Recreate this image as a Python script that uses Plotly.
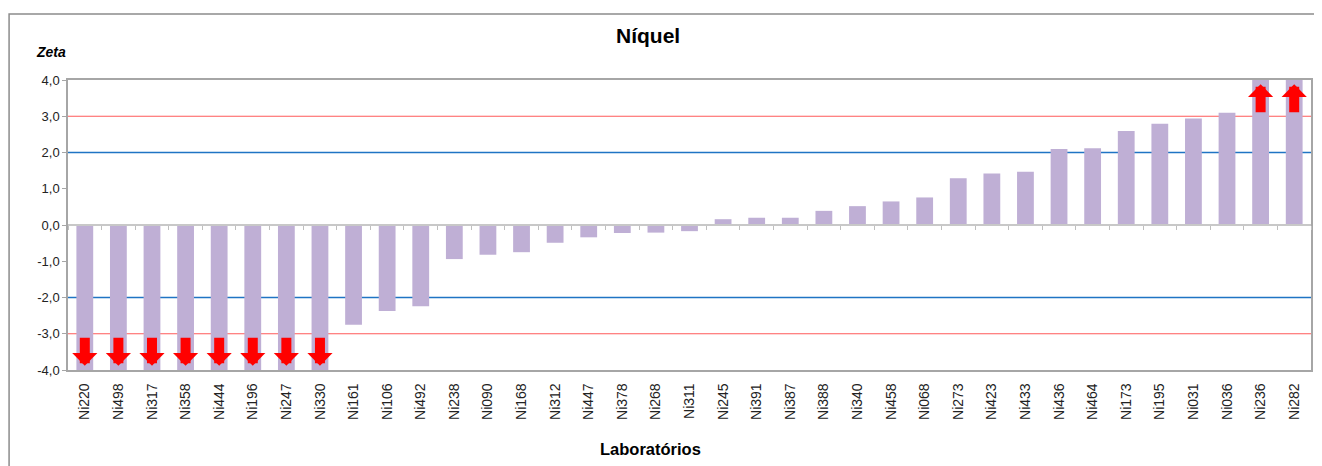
import plotly.graph_objects as go

LABS = ["Ni220", "Ni498", "Ni317", "Ni358", "Ni444", "Ni196", "Ni247", "Ni330",
        "Ni161", "Ni106", "Ni492", "Ni238", "Ni090", "Ni168", "Ni312", "Ni447",
        "Ni378", "Ni268", "Ni311", "Ni245", "Ni391", "Ni387", "Ni388", "Ni340",
        "Ni458", "Ni068", "Ni273", "Ni423", "Ni433", "Ni436", "Ni464", "Ni173",
        "Ni195", "Ni031", "Ni036", "Ni236", "Ni282"]
ZETA = [-4.0, -4.0, -4.0, -4.0, -4.0, -4.0, -4.0, -4.0,
        -2.75, -2.37, -2.24, -0.94, -0.82, -0.75, -0.49, -0.34,
        -0.22, -0.21, -0.17, 0.16, 0.20, 0.20, 0.39, 0.52,
        0.65, 0.76, 1.29, 1.42, 1.47, 2.10, 2.12, 2.59,
        2.79, 2.94, 3.10, 4.0, 4.0]
Y_TICKS = [-4, -3, -2, -1, 0, 1, 2, 3, 4]
Y_TICK_LABELS = ["-4,0", "-3,0", "-2,0", "-1,0", "0,0", "1,0", "2,0", "3,0", "4,0"]
WARN_LIMIT = 2.0
ACTION_LIMIT = 3.0
Y_MAX = 4.0
TITLE = "Níquel"
Y_TITLE = "Zeta"
X_TITLE = "Laboratórios"

FONT = "Liberation Sans, Arial, sans-serif"
BAR_COLOR = "#bfafd5"
GRAY = "#a6a6a6"

fig = go.Figure()
fig.add_trace(go.Bar(x=LABS, y=ZETA, marker=dict(color=BAR_COLOR, line=dict(width=0)),
                     showlegend=False, hoverinfo="x+y"))
# helper trace for the axis drawn through zero
fig.add_trace(go.Scatter(x=list(range(len(LABS))), y=[None] * len(LABS), xaxis="x2",
                         mode="markers", showlegend=False, hoverinfo="skip"))

# limit lines
for lim, col, w in [(ACTION_LIMIT, "#ff5a5a", 1.2), (WARN_LIMIT, "#1f74c4", 1.6)]:
    for s in (1, -1):
        fig.add_shape(type="line", xref="paper", x0=0, x1=1, yref="y", y0=s * lim, y1=s * lim,
                      line=dict(color=col, width=w), layer="below")

# out-of-range arrows
annotations = []
for lab, v in zip(LABS, ZETA):
    if abs(v) >= Y_MAX:
        s = 1 if v > 0 else -1
        annotations.append(dict(x=lab, y=s * 3.88, ax=lab, ay=s * 3.07, xref="x", yref="y",
                                axref="x", ayref="y", showarrow=True, arrowhead=1,
                                arrowwidth=10, arrowsize=0.42, arrowcolor="#ff0000", text=""))

annotations += [
    dict(text=f"<b>{TITLE}</b>", x=0.4665, y=1.155, xref="paper", yref="paper",
         showarrow=False, font=dict(family=FONT, size=21, color="#000"), xanchor="center", yanchor="middle"),
    dict(text=f"<b><i>{Y_TITLE}</i></b>", x=-0.0137, y=1.097, xref="paper", yref="paper",
         showarrow=False, font=dict(family=FONT, size=14, color="#000"), xanchor="center", yanchor="middle"),
    dict(text=f"<b>{X_TITLE}</b>", x=0.469, y=-0.272, xref="paper", yref="paper",
         showarrow=False, font=dict(family=FONT, size=16.5, color="#000"), xanchor="center", yanchor="middle"),
]

# outer frame
fig.add_shape(type="rect", xref="paper", yref="paper", x0=-0.0474, x1=1.1, y0=-0.45, y1=1.2276,
              line=dict(color="#8c8c8c", width=1.5), layer="below")

# page body has an 8px margin: the figure is sized and shifted to compensate
fig.update_layout(
    width=1314, height=458,
    margin=dict(l=60, r=9, t=72, b=96),
    paper_bgcolor="white", plot_bgcolor="white",
    bargap=0.5,
    font=dict(family=FONT, color="#222"),
    annotations=annotations,
    xaxis=dict(type="category", categoryorder="array", categoryarray=LABS,
               range=[-0.5, len(LABS) - 0.5],
               showline=True, linecolor=GRAY, linewidth=1.5, mirror=True,
               ticks="outside", ticklen=6, tickcolor="rgba(0,0,0,0)",
               tickangle=-90, tickfont=dict(family=FONT, size=14, color="#222"),
               showgrid=False, zeroline=False, fixedrange=True),
    xaxis2=dict(overlaying="x", anchor="free", position=0.5, type="linear",
                range=[-0.5, len(LABS) - 0.5], tickmode="linear", tick0=0.5, dtick=1,
                ticks="outside", ticklen=4, tickcolor="#bfbfbf", tickwidth=1,
                showticklabels=False, showline=True, linecolor="#c8c8c8", linewidth=1.5,
                showgrid=False, zeroline=False),
    yaxis=dict(range=[-Y_MAX, Y_MAX], tickmode="array", tickvals=Y_TICKS, ticktext=Y_TICK_LABELS,
               showline=True, linecolor=GRAY, linewidth=1.5, mirror=True,
               ticks="outside", ticklen=4, tickcolor=GRAY,
               tickfont=dict(family=FONT, size=13, color="#222"),
               showgrid=False, zeroline=False),
)

fig.write_html("out.html")
